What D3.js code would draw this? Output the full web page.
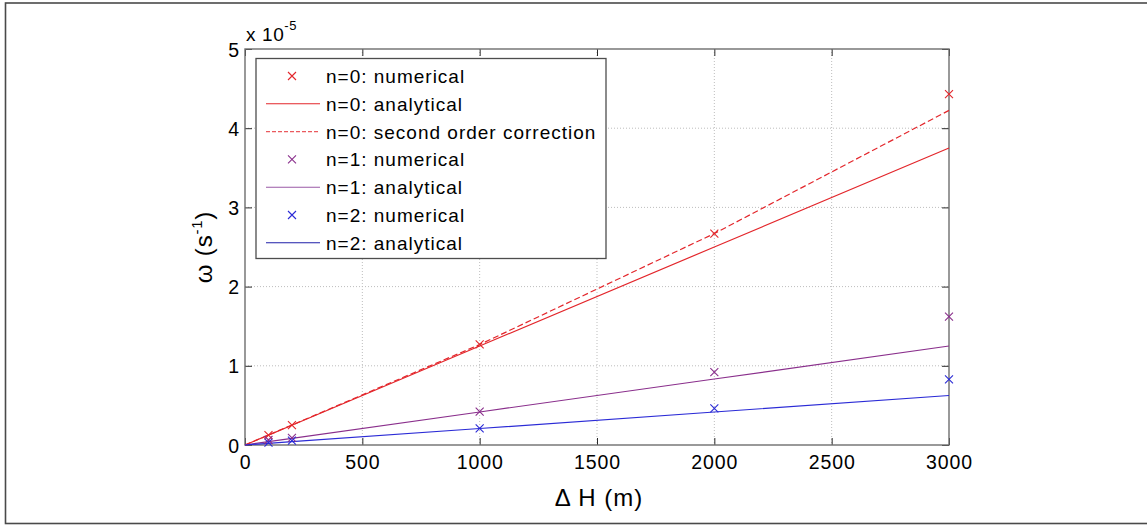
<!DOCTYPE html>
<html>
<head>
<meta charset="utf-8">
<script src="https://cdn.jsdelivr.net/npm/d3@7"></script>
<style>
  html, body { margin: 0; padding: 0; background: #fff; }
  svg text { font-family: "Liberation Sans", Arial, Helvetica, sans-serif; fill: #000; }
</style>
</head>
<body>
<svg id="chart" width="1147" height="525"></svg>
<script>
// Height difference ΔH (m) at which the frequencies were evaluated
const heights = [100, 200, 1000, 2000, 3000];
const curveHeights = [0, 100, 200, 1000, 2000, 3000];

// Frequencies, in units of 1e-5 s^-1
const n0Numerical = [0.126, 0.25, 1.27, 2.67, 4.43];
const n0Analytical = [0, 0.125, 0.25, 1.25, 2.5, 3.75];
const n0SecondOrder = [0, 0.126, 0.252, 1.268, 2.67, 4.225];
const n1Numerical = [0.063, 0.09, 0.42, 0.92, 1.62];
const n1Analytical = [0, 0.042, 0.083, 0.417, 0.833, 1.25];
const n2Numerical = [0.03, 0.055, 0.21, 0.463, 0.83];
const n2Analytical = [0, 0.021, 0.042, 0.208, 0.417, 0.625];

const xTicks = [0, 500, 1000, 1500, 2000, 2500, 3000];
const yTicks = [0, 1, 2, 3, 4, 5];

const legendLabels = [
  "n=0: numerical",
  "n=0: analytical",
  "n=0: second order correction",
  "n=1: numerical",
  "n=1: analytical",
  "n=2: numerical",
  "n=2: analytical"
];

const RED = "#e3262b", PURPLE = "#8a2f8c", BLUE = "#2b2bd6", NAVY = "#1f1fa8";

const svg = d3.select("#chart");
const plot = { left: 245, top: 49, right: 949, bottom: 445 };

// Figure frame
svg.append("rect")
  .attr("x", 5.5).attr("y", 3).attr("width", 1160).attr("height", 520.5)
  .attr("fill", "#fff").attr("stroke", "#4a4a4a").attr("stroke-width", 1.6);

const x = d3.scaleLinear().domain([0, 3000]).range([plot.left, plot.right]);
const y = d3.scaleLinear().domain([0, 5]).range([plot.bottom, plot.top]);

const g = svg.append("g");

// Dotted grid
g.append("g").selectAll("line").data(xTicks.slice(1, -1)).join("line")
  .attr("x1", d => x(d)).attr("x2", d => x(d))
  .attr("y1", plot.top).attr("y2", plot.bottom)
  .attr("stroke", "#bdbdbd").attr("stroke-width", 1).attr("stroke-dasharray", "1,2");
g.append("g").selectAll("line").data(yTicks.slice(1, -1)).join("line")
  .attr("y1", d => y(d)).attr("y2", d => y(d))
  .attr("x1", plot.left).attr("x2", plot.right)
  .attr("stroke", "#bdbdbd").attr("stroke-width", 1).attr("stroke-dasharray", "1,2");

// Axes with inward ticks on all four sides
const tickLen = 7;
const axisFont = g => g.selectAll("text")
  .style("font-size", "19.5px").style("letter-spacing", "0.9px")
  .style("font-family", "'Liberation Sans', Arial, sans-serif").attr("fill", "#000");

const xAxis = g.append("g").attr("transform", `translate(0,${plot.bottom})`)
  .call(d3.axisBottom(x).tickValues(xTicks).tickFormat(d3.format("d"))
    .tickSizeInner(-tickLen).tickSizeOuter(0).tickPadding(20));
xAxis.call(axisFont);
xAxis.selectAll("text").attr("dy", "0.2em");

const yAxis = g.append("g").attr("transform", `translate(${plot.left},0)`)
  .call(d3.axisLeft(y).tickValues(yTicks).tickFormat(d3.format("d"))
    .tickSizeInner(-tickLen).tickSizeOuter(0).tickPadding(5));
yAxis.call(axisFont);
yAxis.selectAll("text").attr("dy", "0.36em");

const xTop = g.append("g").attr("transform", `translate(0,${plot.top})`)
  .call(d3.axisTop(x).tickValues(xTicks).tickFormat("").tickSizeInner(-tickLen).tickSizeOuter(0));
const yRight = g.append("g").attr("transform", `translate(${plot.right},0)`)
  .call(d3.axisRight(y).tickValues(yTicks).tickFormat("").tickSizeInner(-tickLen).tickSizeOuter(0));

[xAxis, yAxis, xTop, yRight].forEach(a => {
  a.select(".domain").remove();
  a.selectAll(".tick line").attr("stroke", "#2a2a2a").attr("stroke-width", 1);
});

// Axes box
g.append("rect")
  .attr("x", plot.left).attr("y", plot.top)
  .attr("width", plot.right - plot.left).attr("height", plot.bottom - plot.top)
  .attr("fill", "none").attr("stroke", "#6e6e6e").attr("stroke-width", 1.4);

// Curves
const line = d3.line().x(d => x(d[0])).y(d => y(d[1]));
const pair = (xs, ys) => xs.map((v, i) => [v, ys[i]]);

const curves = [
  { data: pair(curveHeights, n0Analytical), color: RED, dash: null },
  { data: pair(curveHeights, n0SecondOrder), color: RED, dash: "6,3" },
  { data: pair(curveHeights, n1Analytical), color: PURPLE, dash: null },
  { data: pair(curveHeights, n2Analytical), color: BLUE, dash: null }
];
g.append("g").selectAll("path").data(curves).join("path")
  .attr("d", d => line(d.data))
  .attr("fill", "none")
  .attr("stroke", d => d.color)
  .attr("stroke-width", 1.2)
  .attr("stroke-dasharray", d => d.dash);

// Cross markers
const crossPath = (cx, cy, r) =>
  `M${cx - r},${cy - r}L${cx + r},${cy + r}M${cx - r},${cy + r}L${cx + r},${cy - r}`;
const markerSets = [
  { data: pair(heights, n0Numerical), color: RED },
  { data: pair(heights, n1Numerical), color: PURPLE },
  { data: pair(heights, n2Numerical), color: BLUE }
];
markerSets.forEach(s => {
  g.append("g").selectAll("path").data(s.data).join("path")
    .attr("d", d => crossPath(x(d[0]), y(d[1]), 4))
    .attr("fill", "none").attr("stroke", s.color).attr("stroke-width", 1.1);
});

// Exponent label
const expo = svg.append("text").attr("x", 246).attr("y", 41)
  .style("font-size", "19px").style("letter-spacing", "0.6px");
expo.append("tspan").text("x 10");
expo.append("tspan").attr("dy", -11).style("font-size", "13px").text("-5");

// Axis titles
svg.append("text")
  .attr("x", (plot.left + plot.right) / 2 + 2).attr("y", 506)
  .attr("text-anchor", "middle")
  .style("font-size", "24px").style("letter-spacing", "1px")
  .text("\u0394 H (m)");

const yTitle = svg.append("text")
  .attr("transform", `translate(212,${(plot.top + plot.bottom) / 2}) rotate(-90)`)
  .attr("text-anchor", "middle")
  .style("font-size", "24px").style("letter-spacing", "0.8px");
yTitle.append("tspan").text("\u03c9 (s");
yTitle.append("tspan").attr("dy", -10).style("font-size", "15px").text("-1");
yTitle.append("tspan").attr("dy", 10).text(")");

// Legend
const leg = { x: 256, y: 58.5, w: 350, h: 200, row: 27.8, first: 76 };
svg.append("rect")
  .attr("x", leg.x).attr("y", leg.y).attr("width", leg.w).attr("height", leg.h)
  .attr("fill", "#fff").attr("stroke", "#4d4d4d").attr("stroke-width", 1.3);

const legendItems = [
  { type: "marker", color: RED },
  { type: "line", color: RED },
  { type: "dash", color: "#ea5a5e" },
  { type: "marker", color: PURPLE },
  { type: "line", color: "#9a5aa6" },
  { type: "marker", color: BLUE },
  { type: "line", color: NAVY }
];
const rows = svg.append("g").selectAll("g").data(legendItems).join("g")
  .attr("transform", (d, i) => `translate(0,${leg.first + i * leg.row})`);
rows.filter(d => d.type === "marker").append("path")
  .attr("d", crossPath(292, 0, 4))
  .attr("fill", "none").attr("stroke", d => d.color).attr("stroke-width", 1.1);
rows.filter(d => d.type !== "marker").append("line")
  .attr("x1", 266).attr("x2", 320).attr("y1", 0).attr("y2", 0)
  .attr("stroke", d => d.color).attr("stroke-width", 1.1)
  .attr("stroke-dasharray", d => d.type === "dash" ? "4,2" : null);
rows.append("text")
  .attr("x", 326).attr("y", 7)
  .style("font-size", "19px").style("letter-spacing", "1px")
  .text((d, i) => legendLabels[i]);
</script>
</body>
</html>
